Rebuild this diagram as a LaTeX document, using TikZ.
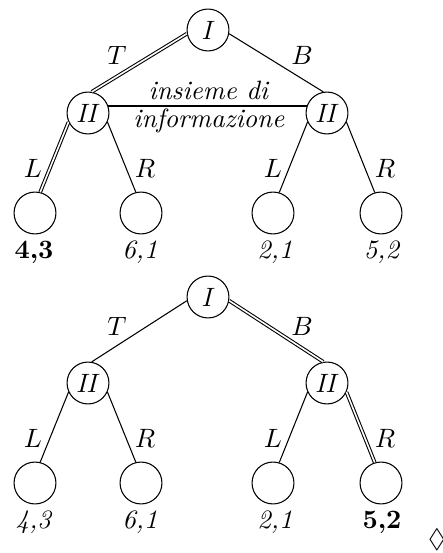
\documentclass[tikz,border=0pt]{standalone}
\usepackage{amssymb}
\begin{document}
\begin{tikzpicture}[x=0.377pt,y=-0.377pt,
  vertex/.style={draw,circle,minimum size=15.8pt,inner sep=0pt,line width=0.4pt},
  edge/.style={line width=0.4pt},
  chosen/.style={line width=0.4pt,double,double distance=0.6pt},
  infoset/.style={line width=0.8pt},
  lab/.style={inner sep=0pt,anchor=base}]
\useasboundingbox (0,0) rectangle (442,553);

% ---- first game tree: imperfect information ----
\node[vertex] (a0) at (208,30) {\textit{I}};
\node[vertex] (a1) at (88,113) {\textit{II}};
\node[vertex] (a2) at (327,113) {\textit{II}};
\node[vertex] (a3) at (35,213) {};
\node[vertex] (a4) at (141,213) {};
\node[vertex] (a5) at (273,213) {};
\node[vertex] (a6) at (381,213) {};

\draw[chosen] (a0.190) -- (a1.80);
\draw[edge] (a0.350) -- (a2.100);
\draw[chosen] (a1.205) -- (a3.76);
\draw[edge] (a1.335) -- (a4.104);
\draw[edge] (a2.205) -- (a5.73);
\draw[edge] (a2.335) -- (a6.107);
\draw[infoset] (a1.20) -- (a2.160);

\node[lab] (ta) at (117,65) {$T$};
\node[lab] (ba) at (302,65) {$B$};
\node[lab] (la1) at (33,178) {$L$};
\node[lab] (ra1) at (145,178) {$R$};
\node[lab] (la2) at (273,178) {$L$};
\node[lab] (ra2) at (385,178) {$R$};
\node[lab] (is1) at (209,100) {\textit{insieme di}};
\node[lab] (is2) at (209,128) {\textit{informazione}};

\node[lab] (pa3) at (34,258) {\textbf{4,3}};
\node[lab] (pa4) at (140,258) {\textit{6,1}};
\node[lab] (pa5) at (275,258) {\textit{2,1}};
\node[lab] (pa6) at (382,258) {\textit{5,2}};

% ---- second game tree: perfect information ----
\node[vertex] (b0) at (208,297) {\textit{I}};
\node[vertex] (b1) at (88,383) {\textit{II}};
\node[vertex] (b2) at (327,383) {\textit{II}};
\node[vertex] (b3) at (35,483) {};
\node[vertex] (b4) at (141,483) {};
\node[vertex] (b5) at (273,483) {};
\node[vertex] (b6) at (381,483) {};

\draw[edge] (b0.190) -- (b1.80);
\draw[chosen] (b0.350) -- (b2.100);
\draw[edge] (b1.205) -- (b3.76);
\draw[edge] (b1.335) -- (b4.104);
\draw[edge] (b2.205) -- (b5.73);
\draw[chosen] (b2.335) -- (b6.107);

\node[lab] (tb) at (117,335) {$T$};
\node[lab] (bb) at (302,335) {$B$};
\node[lab] (lb1) at (33,447) {$L$};
\node[lab] (rb1) at (145,447) {$R$};
\node[lab] (lb2) at (273,447) {$L$};
\node[lab] (rb2) at (385,447) {$R$};

\node[lab] (pb3) at (34,528) {\textit{4,3}};
\node[lab] (pb4) at (140,528) {\textit{6,1}};
\node[lab] (pb5) at (275,528) {\textit{2,1}};
\node[lab] (pb6) at (382,528) {\textbf{5,2}};

\node[inner sep=0pt] (qed) at (437,540) {$\Diamond$};
\end{tikzpicture}
\end{document}
